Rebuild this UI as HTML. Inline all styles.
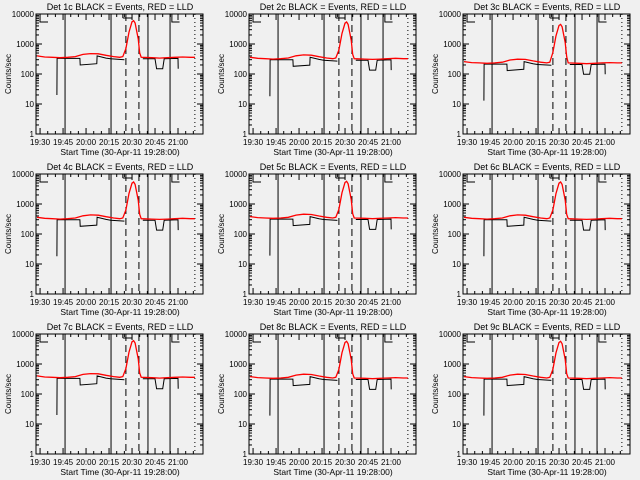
<!DOCTYPE html>
<html><head><meta charset="utf-8"><style>
html,body{margin:0;padding:0;background:#f0f0f0;}
svg{display:block;font-family:"Liberation Sans",sans-serif;}
</style></head><body>
<svg id="c" width="640" height="480" xmlns="http://www.w3.org/2000/svg"></svg>
<script>
// time in minutes after 19:28:00
const tickLabels = ["19:30","19:45","20:00","20:15","20:30","20:45","21:00"];
const tickTimes = [2,17,32,47,62,77,92];
const yTicks = [1,10,100,1000,10000];
const yTickLabels = ["1","10","100","1000","10000"];
const detectors = ["1","2","3","4","5","6","7","8","9"];
const detScale = [1,0.9,0.65,0.9,0.95,0.9,1,0.95,0.95];
const redTimes = [0,5,10,15,20,25,30,35,40,45,50,54,56,58,60,62,63,64,66,67,68,75,80,85,90,95,100,103];
const redValues = [400,370,360,350,360,380,450,480,470,420,380,360,380,700,2500,5500,6000,5000,1500,500,360,350,340,350,360,370,360,360];
const blackTimes = [13,13.1,28,28.2,39,39.2,45,48,57,null,69,77,78,82,83,92,92.1];
const blackValues = [20,330,330,200,220,400,340,320,300,null,320,320,150,150,320,330,150];
const solidLines = [18.3,48.3,72.4,86.8];
const dashedLines = [58,66.5];
const dottedLines = [103];

const NS="http://www.w3.org/2000/svg";
const svg=document.getElementById('c');
function mk(tag,attrs,parent){const e=document.createElementNS(NS,tag);for(const k in attrs)e.setAttribute(k,attrs[k]);(parent||svg).appendChild(e);return e;}
const L=36,R=203,T=14,B=134,tMin=-0.65,tMax=108.3;
function xs(t){return L+(t-tMin)/(tMax-tMin)*(R-L);}
function ys(v){return Math.min(B,T+(4-Math.log10(v))*(B-T)/4);}

detectors.forEach((d,i)=>{
  const ox=[0,213,427][i%3], oy=[0,160,320][Math.floor(i/3)];
  const s=detScale[i];
  const g=mk('g',{transform:`translate(${ox},${oy})`});
  
  
  const title=mk('text',{x:120,y:10,'text-anchor':'middle','font-size':9,fill:'#000'},g);
  title.textContent='Det '+d+'c BLACK = Events, RED = LLD';
  
  
  const frame=mk('rect',{x:L,y:T,width:R-L,height:B-T,fill:'none',stroke:'#000','stroke-width':1},g);
  
  
  yTicks.forEach((v,j)=>{
    const y=ys(v);
    mk('line',{x1:L,x2:L+6,y1:y,y2:y,stroke:'#000'},g);
    mk('line',{x1:R,x2:R-6,y1:y,y2:y,stroke:'#000'},g);
    if(j<4){for(let m=2;m<10;m++){const yy=ys(v*m);mk('line',{x1:L,x2:L+3,y1:yy,y2:yy,stroke:'#000'},g);mk('line',{x1:R,x2:R-3,y1:yy,y2:yy,stroke:'#000'},g);}}
    const tx=mk('text',{x:L-2,y:y+3,'text-anchor':'end','font-size':8,fill:'#000'},g);
    tx.textContent=yTickLabels[j];
    
    
  });
  tickTimes.forEach((t,j)=>{
    const x=xs(t);
    mk('line',{x1:x,x2:x,y1:B,y2:B-6,stroke:'#000'},g);
    mk('line',{x1:x,x2:x,y1:T,y2:T+6,stroke:'#000'},g);
    for(let m=5;m<15;m+=5){const xx=xs(t+m);if(xx<R){mk('line',{x1:xx,x2:xx,y1:B,y2:B-3,stroke:'#000'},g);mk('line',{x1:xx,x2:xx,y1:T,y2:T+3,stroke:'#000'},g);}}
    const tx=mk('text',{x:x,y:B+11,'text-anchor':'middle','font-size':8,fill:'#000'},g);
    tx.textContent=tickLabels[j];
    
    
  });
  const xt=mk('text',{x:120,y:B+21,'text-anchor':'middle','font-size':8.5,fill:'#000'},g);
  xt.textContent='Start Time (30-Apr-11 19:28:00)';
  
  
  const yt=mk('text',{x:0,y:0,'text-anchor':'middle','font-size':8,fill:'#000',transform:`translate(11,${(T+B)/2}) rotate(-90)`},g);
  yt.textContent='Counts/sec';
  
  
  solidLines.forEach(t=>{const l=mk('line',{x1:xs(t),x2:xs(t),y1:T,y2:B,stroke:'#000','stroke-width':1},g);
    });
  dashedLines.forEach(t=>{const l=mk('line',{x1:xs(t),x2:xs(t),y1:T,y2:B,stroke:'#000','stroke-width':1,'stroke-dasharray':'7,4'},g);
    });
  dottedLines.forEach(t=>{const l=mk('line',{x1:xs(t),x2:xs(t),y1:T,y2:B,stroke:'#000','stroke-dasharray':'1,3'},g);
    });
  mk('path',{d:`M${L+4},${T} V${T+8} H${L+12}`,stroke:'#000',fill:'none'},g);
  mk('path',{d:`M${xs(56)},${T+4} H${xs(62)} V${T} M${xs(56)},${T} V${T+4}`,stroke:'#000',fill:'none'},g);
  mk('path',{d:`M${xs(88)},${T} V${T+8} H${xs(93)}`,stroke:'#000',fill:'none'},g);
  let d1='',pen=false;
  blackTimes.forEach((t,k)=>{if(t===null){pen=false;return;}d1+=(pen?'L':'M')+xs(t).toFixed(1)+','+ys(blackValues[k]*s).toFixed(1);pen=true;});
  const bl=mk('path',{d:d1,stroke:'#000',fill:'none','stroke-width':1},g);
  
  
  let d2='';
  redTimes.forEach((t,k)=>{d2+=(k?'L':'M')+xs(t).toFixed(1)+','+ys(redValues[k]*(k>=13&&k<=19?Math.max(s,0.75):s)).toFixed(1);});
  const rl=mk('path',{d:d2,stroke:'#ff0000',fill:'none','stroke-width':1.3},g);
  
  
});
</script>
</body></html>
